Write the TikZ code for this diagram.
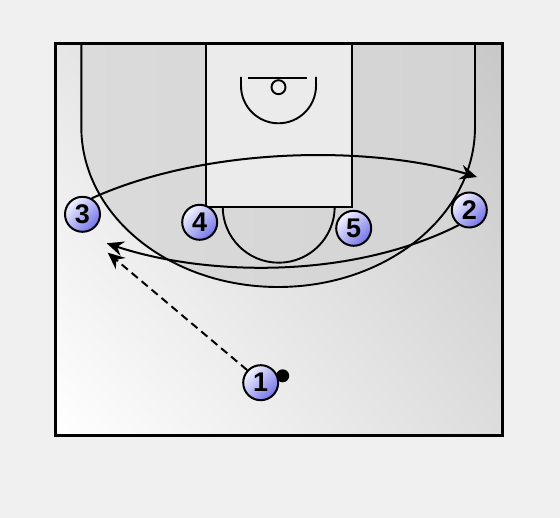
\documentclass[tikz,border=0pt]{standalone}
\usepackage{fontspec}
\setmainfont{Liberation Sans}
\usetikzlibrary{arrows.meta,shadings}
\definecolor{bg}{HTML}{F0F0F0}
\definecolor{courtUL}{HTML}{E6E6E6}
\definecolor{courtUR}{HTML}{C8C8C8}
\definecolor{courtLL}{HTML}{FFFFFF}
\definecolor{courtLR}{HTML}{DDDDDD}
\definecolor{arcL}{HTML}{DBDBDB}
\definecolor{arcR}{HTML}{D3D3D3}
\definecolor{paint}{HTML}{EBEBEB}
\definecolor{plight}{HTML}{F4F4FF}
\definecolor{pdark}{HTML}{7474EA}
\begin{document}
\begin{tikzpicture}[x=1pt,y=-1pt,line width=2pt,
  courtline/.style={draw=black,line width=1.9pt},
  player/.style={circle,draw=black,line width=2pt,minimum size=35pt,inner sep=0pt,
    top color=plight,bottom color=pdark,shading angle=45,
    font=\fontsize{27}{27}\selectfont\bfseries},
  ballstyle/.style={circle,fill=black,minimum size=13pt,inner sep=0pt},
  move/.style={-{Stealth[length=17pt,width=15pt,inset=6pt]},line width=2pt},
  pass/.style={move,dash pattern=on 8pt off 5pt}]
\fill[bg] (0,0) rectangle (560,518);
\useasboundingbox (0,0) rectangle (560,518);
% court
\shade[upper left=courtUL,upper right=courtUR,lower left=courtLL,lower right=courtLR]
  (55,44) rectangle (502,436);
% three point region
\shade[left color=arcL,right color=arcR] (81.3,44) -- (81.3,127)
  arc[start angle=180,end angle=0,x radius=196.85,y radius=160] -- (475,44) -- cycle;
% paint
\fill[paint] (205.7,44) rectangle (351.7,206.7);
\draw[courtline] (205.7,44) rectangle (351.7,206.7);
% free throw half circle
\draw[courtline] (222.7,206.7) arc[start angle=180,end angle=0,radius=56];
% three point line
\draw[courtline] (81.3,44) -- (81.3,127)
  arc[start angle=180,end angle=0,x radius=196.85,y radius=160] -- (475,44);
% restricted area, backboard, rim
\draw[courtline] (241,77) -- (241,85.8) arc[start angle=180,end angle=0,radius=37.5] -- (316,77);
\draw[courtline] (248,77.7) -- (307,77.7);
\draw[courtline] (278.5,87.2) circle[radius=7];
% border
\draw[line width=3pt] (55,44) rectangle (502,436);
% ball and players
\node[ballstyle] (ball) at (282.7,375.8) {};
\node[player] (p1) at (260.7,382.7) {1};
\node[player] (p2) at (469.3,210) {2};
\node[player] (p3) at (82.5,214.3) {3};
\node[player] (p4) at (199.7,222.3) {4};
\node[player] (p5) at (353.7,228.3) {5};
% arrow end points
\coordinate (e1) at (477,177);
\coordinate (e2) at (106.7,243.3);
\coordinate (e3) at (107.7,252.7);
% movements
\draw[move] (p3.60) .. controls (210,145) and (374,146) .. (e1);
\draw[move] (p2.235) .. controls (350,280) and (205,276) .. (e2);
\draw[pass] (p1.137) -- (e3);
\end{tikzpicture}
\end{document}
